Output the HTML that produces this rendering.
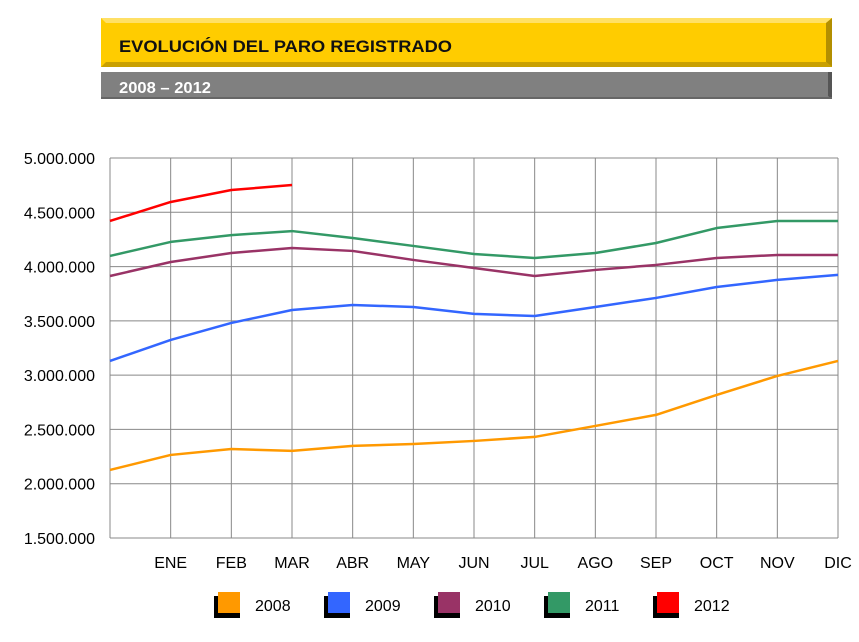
<!DOCTYPE html>
<html><head><meta charset="utf-8"><style>
body{margin:0;background:#fff;width:859px;height:637px;overflow:hidden;font-family:"Liberation Sans",Arial,sans-serif}
</style></head><body>
<svg width="859" height="637" xmlns="http://www.w3.org/2000/svg">
<g>
<rect x="101" y="18" width="731" height="49" fill="#FFCC00"/>
<polygon points="101,18 832,18 826,23 106,23" fill="#FFE066"/>
<polygon points="832,18 832,67 826,62 826,23" fill="#B38F00"/>
<polygon points="101,67 832,67 826,62 106,62" fill="#C9A000"/>
<text x="119" y="52" font-size="17" font-weight="bold" fill="#111" textLength="333" lengthAdjust="spacingAndGlyphs">EVOLUCIÓN DEL PARO REGISTRADO</text>
</g>
<g>
<rect x="101" y="72" width="731" height="27" fill="#808080"/>
<polygon points="832,72 832,99 828,96 828,72" fill="#555"/>
<rect x="101" y="97" width="731" height="2" fill="#666"/>
<text x="119" y="93" font-size="16" font-weight="bold" fill="#fff" textLength="92" lengthAdjust="spacingAndGlyphs">2008 – 2012</text>
</g>
<g id="grid"></g><g id="lines"></g><g id="axes"></g><g id="legend"></g>
</svg>
<script>
const months=["ENE","FEB","MAR","ABR","MAY","JUN","JUL","AGO","SEP","OCT","NOV","DIC"];
const yTicks=[1500000,2000000,2500000,3000000,3500000,4000000,4500000,5000000];
const years=["2008","2009","2010","2011","2012"];
const colors=["#FF9900","#3366FF","#993366","#339966","#FF0000"];
const s2008=[2127,2265,2320,2302,2348,2366,2394,2431,2532,2634,2818,2993,3131];
const s2009=[3131,3324,3481,3600,3646,3628,3564,3545,3628,3711,3812,3877,3923];
const s2010=[3913,4042,4125,4171,4144,4061,3987,3913,3969,4015,4079,4107,4107];
const s2011=[4098,4227,4290,4327,4263,4190,4116,4079,4125,4217,4355,4420,4420];
const s2012=[4420,4595,4705,4751];
const series=[s2008,s2009,s2010,s2011,s2012];
const NS="http://www.w3.org/2000/svg";
const X0=110,X1=838,Y0=538,Y1=158;
const xs=i=>X0+i*(X1-X0)/12;
const ys=v=>Y0-(v-1500000)*(Y0-Y1)/3500000;
function mk(t,a,p){const e=document.createElementNS(NS,t);for(const k in a)e.setAttribute(k,a[k]);p.appendChild(e);return e;}
const G=document.getElementById('grid'),L=document.getElementById('lines'),A=document.getElementById('axes'),LG=document.getElementById('legend');
yTicks.forEach(v=>{
 const l=mk('line',{x1:X0,x2:X1,y1:ys(v),y2:ys(v),stroke:'#888','stroke-width':1},G);
 
 
 const t=mk('text',{x:95,y:ys(v)+6,'text-anchor':'end','font-size':16,fill:'#000'},A);
 t.textContent=v.toLocaleString('de-DE');
 
 
});
for(let i=0;i<=12;i++){
 const l=mk('line',{x1:xs(i),x2:xs(i),y1:Y1,y2:Y0,stroke:'#888','stroke-width':1},G);
 
 
}
months.forEach((m,i)=>{
 const t=mk('text',{x:xs(i+1),y:568,'text-anchor':'middle','font-size':16,fill:'#000'},A);
 t.textContent=m;
 
 
});
series.forEach((s,k)=>{
 const p=mk('polyline',{points:s.map((v,i)=>xs(i)+','+ys(v*1000)).join(' '),fill:'none',stroke:colors[k],'stroke-width':2.5,'stroke-linejoin':'round'},L);
 
 
});
const lx=[218,328,438,548,657];
years.forEach((y,k)=>{
 const g=mk('g',{},LG);
 
 
 mk('rect',{x:lx[k]-4,y:596,width:26,height:22,fill:'#000'},g);
 mk('rect',{x:lx[k],y:592,width:22,height:21,fill:colors[k]},g);
 const t=mk('text',{x:lx[k]+37,y:611,'font-size':16,fill:'#000'},g);
 t.textContent=y;
});
</script>
</body></html>
